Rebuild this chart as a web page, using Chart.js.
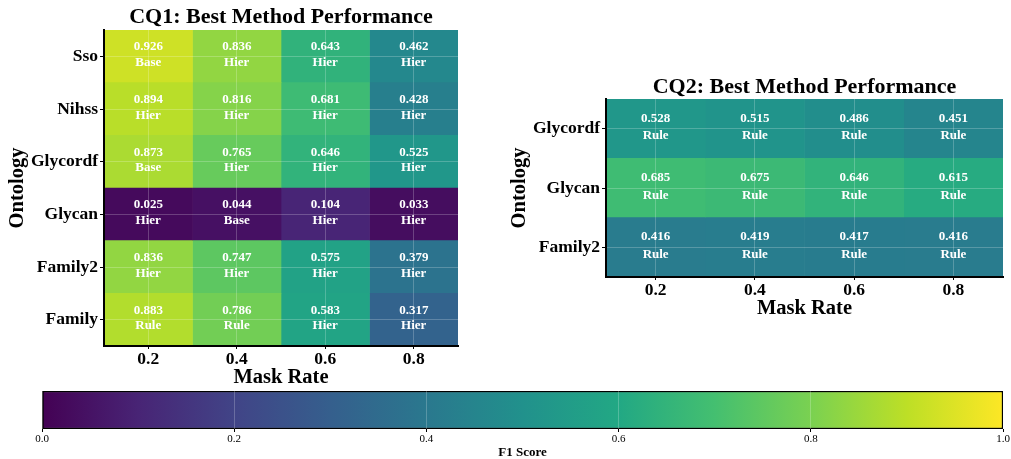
<!DOCTYPE html>
<html>
<head>
<meta charset="utf-8">
<script src="https://cdn.jsdelivr.net/npm/chart.js@4.4.0/dist/chart.umd.min.js"></script>
<style>
  html, body { margin: 0; padding: 0; background: #ffffff; }
  body { width: 1011px; height: 459px; position: relative; overflow: hidden; }
  .box { position: absolute; }
</style>
</head>
<body>
<div class="box" style="left:0px;top:0px"><canvas id="cq1" width="468" height="390"></canvas></div>
<div class="box" style="left:500px;top:60px"><canvas id="cq2" width="511" height="261"></canvas></div>
<div class="box" style="left:0px;top:380px"><canvas id="cbar" width="1011" height="80"></canvas></div>
<script>
// ---- data ----
const maskRates = [0.2, 0.4, 0.6, 0.8];

const cq1Ontologies = ['Sso', 'Nihss', 'Glycordf', 'Glycan', 'Family2', 'Family'];
const cq1F1 = [
  [0.926, 0.836, 0.643, 0.462],
  [0.894, 0.816, 0.681, 0.428],
  [0.873, 0.765, 0.646, 0.525],
  [0.025, 0.044, 0.104, 0.033],
  [0.836, 0.747, 0.575, 0.379],
  [0.883, 0.786, 0.583, 0.317]
];
const cq1Method = [
  ['Base', 'Hier', 'Hier', 'Hier'],
  ['Hier', 'Hier', 'Hier', 'Hier'],
  ['Base', 'Hier', 'Hier', 'Hier'],
  ['Hier', 'Base', 'Hier', 'Hier'],
  ['Hier', 'Hier', 'Hier', 'Hier'],
  ['Rule', 'Rule', 'Hier', 'Hier']
];

const cq2Ontologies = ['Glycordf', 'Glycan', 'Family2'];
const cq2F1 = [
  [0.528, 0.515, 0.486, 0.451],
  [0.685, 0.675, 0.646, 0.615],
  [0.416, 0.419, 0.417, 0.416]
];
const cq2Method = [
  ['Rule', 'Rule', 'Rule', 'Rule'],
  ['Rule', 'Rule', 'Rule', 'Rule'],
  ['Rule', 'Rule', 'Rule', 'Rule']
];

const colorbarTicks = [0.0, 0.2, 0.4, 0.6, 0.8, 1.0];

// ---- colour map (viridis, 11 evenly spaced stops) ----
const VIRIDIS = ['#440154', '#482475', '#414487', '#355f8d', '#2a788e', '#21918c',
                 '#22a884', '#44bf70', '#7ad151', '#bddf26', '#fde725'];
function hexToRgb(h) {
  return [parseInt(h.slice(1, 3), 16), parseInt(h.slice(3, 5), 16), parseInt(h.slice(5, 7), 16)];
}
function viridis(v) {
  const t = Math.min(1, Math.max(0, v)) * (VIRIDIS.length - 1);
  const i = Math.min(VIRIDIS.length - 2, Math.floor(t));
  const f = t - i;
  const a = hexToRgb(VIRIDIS[i]), b = hexToRgb(VIRIDIS[i + 1]);
  const c = a.map((x, k) => Math.round(x + (b[k] - x) * f));
  return `rgb(${c[0]},${c[1]},${c[2]})`;
}

const SERIF = '"Liberation Serif", "Times New Roman", serif';
const GRID = 'rgba(255,255,255,0.22)';

// value + method text in every cell
const cellLabels = {
  id: 'cellLabels',
  afterDatasetsDraw(chart, args, opts) {
    const ctx = chart.ctx;
    ctx.save();
    ctx.fillStyle = '#ffffff';
    ctx.font = 'bold 13px ' + SERIF;
    ctx.textAlign = 'center';
    ctx.textBaseline = 'middle';
    chart.data.datasets.forEach((ds, di) => {
      chart.getDatasetMeta(di).data.forEach((bar, i) => {
        const p = bar.getCenterPoint();
        ctx.fillText(ds.f1[i].toFixed(3), p.x, p.y + opts.top);
        ctx.fillText(ds.method[i], p.x, p.y + opts.bottom);
      });
    });
    ctx.restore();
  }
};

function heatmap(id, title, ontologies, f1, methods, cfg) {
  const half = (maskRates[1] - maskRates[0]) / 2;
  const datasets = maskRates.map((r, c) => ({
    data: ontologies.map(() => [r - half, r + half]),
    backgroundColor: ontologies.map((_, i) => viridis(f1[i][c])),
    f1: ontologies.map((_, i) => f1[i][c]),
    method: ontologies.map((_, i) => methods[i][c]),
    borderWidth: 0,
    barPercentage: 1,
    categoryPercentage: 1,
    grouped: false
  }));
  return new Chart(document.getElementById(id), {
    type: 'bar',
    data: { labels: ontologies, datasets },
    plugins: [cellLabels],
    options: {
      indexAxis: 'y',
      responsive: false,
      animation: false,
      layout: { padding: { left: 0, right: cfg.padRight, top: 0, bottom: 0 } },
      plugins: {
        legend: { display: false },
        tooltip: { enabled: false },
        title: {
          display: true,
          text: title,
          fullSize: false,
          color: '#000',
          font: { family: SERIF, size: 22, weight: 'bold', lineHeight: 1.0 },
          padding: { top: cfg.titleTop, bottom: cfg.titleBottom }
        },
        cellLabels: { top: cfg.textTop, bottom: cfg.textBottom }
      },
      scales: {
        x: {
          type: 'linear',
          min: maskRates[0] - half,
          max: maskRates[maskRates.length - 1] + half,
          afterBuildTicks: (s) => { s.ticks = maskRates.map(v => ({ value: v })); },
          afterFit: (s) => { s.height = 44; },
          ticks: {
            color: '#000',
            padding: 0,
            font: { family: SERIF, size: 17.5, weight: 'bold' },
            callback: (v) => Number(v).toFixed(1)
          },
          grid: { color: GRID, tickColor: '#000', tickLength: 3, z: 1 },
          border: { display: true, color: '#000', width: 2, z: 1 },
          title: {
            display: true,
            text: 'Mask Rate',
            color: '#000',
            font: { family: SERIF, size: 20.5, weight: 'bold' },
            padding: 0
          }
        },
        y: {
          type: 'category',
          offset: true,
          afterFit: (s) => { s.width = cfg.yWidth; },
          ticks: {
            color: '#000',
            padding: 2,
            font: { family: SERIF, size: 17.5, weight: 'bold' }
          },
          grid: { color: GRID, offset: false, tickColor: '#000', tickLength: 4, z: 1 },
          border: { display: true, color: '#000', width: 2, z: 1 },
          title: {
            display: true,
            text: 'Ontology',
            color: '#000',
            font: { family: SERIF, size: 20.5, weight: 'bold' },
            padding: { top: cfg.yTitlePad, bottom: 0 }
          }
        }
      }
    }
  });
}

heatmap('cq1', 'CQ1: Best Method Performance', cq1Ontologies, cq1F1, cq1Method, {
  padRight: 10, yWidth: 104, titleTop: 6.5, titleBottom: 1.5, yTitlePad: 5.7,
  textTop: -9.5, textBottom: 6.3
});
heatmap('cq2', 'CQ2: Best Method Performance', cq2Ontologies, cq2F1, cq2Method, {
  padRight: 8, yWidth: 106, titleTop: 16.5, titleBottom: 0.5, yTitlePad: 7.7,
  textTop: -10.2, textBottom: 7.4
});

// ---- horizontal colour bar ----
new Chart(document.getElementById('cbar'), {
  type: 'bar',
  data: {
    labels: [''],
    datasets: [{
      data: [[colorbarTicks[0], colorbarTicks[colorbarTicks.length - 1]]],
      backgroundColor: (c) => {
        const chart = c.chart;
        if (!chart.chartArea) return '#888';
        const xs = chart.scales.x;
        const g = chart.ctx.createLinearGradient(xs.getPixelForValue(0), 0, xs.getPixelForValue(1), 0);
        VIRIDIS.forEach((col, i) => g.addColorStop(i / (VIRIDIS.length - 1), col));
        return g;
      },
      borderColor: '#000',
      borderWidth: 1.5,
      borderSkipped: false,
      barPercentage: 1,
      categoryPercentage: 1
    }]
  },
  options: {
    indexAxis: 'y',
    responsive: false,
    animation: false,
    layout: { padding: { left: 42, right: 8, top: 11, bottom: 0 } },
    plugins: { legend: { display: false }, tooltip: { enabled: false } },
    scales: {
      x: {
        type: 'linear',
        min: 0,
        max: 1,
        afterBuildTicks: (s) => { s.ticks = colorbarTicks.map(v => ({ value: v })); },
        afterFit: (s) => { s.height = 31; },
        ticks: {
          color: '#000',
          padding: 0.5,
          font: { family: SERIF, size: 11 },
          callback: (v) => Number(v).toFixed(1)
        },
        grid: {
          color: (c) => (c.tick && (c.tick.value === 0 || c.tick.value === 1)) ? 'rgba(0,0,0,0)' : 'rgba(255,255,255,0.22)',
          tickColor: '#000',
          tickLength: 3,
          z: 1
        },
        border: { display: false },
        title: {
          display: true,
          text: 'F1 Score',
          color: '#000',
          font: { family: SERIF, size: 13, weight: 'bold' },
          padding: 0
        }
      },
      y: { type: 'category', offset: true, display: false }
    }
  }
});
</script>
</body>
</html>
